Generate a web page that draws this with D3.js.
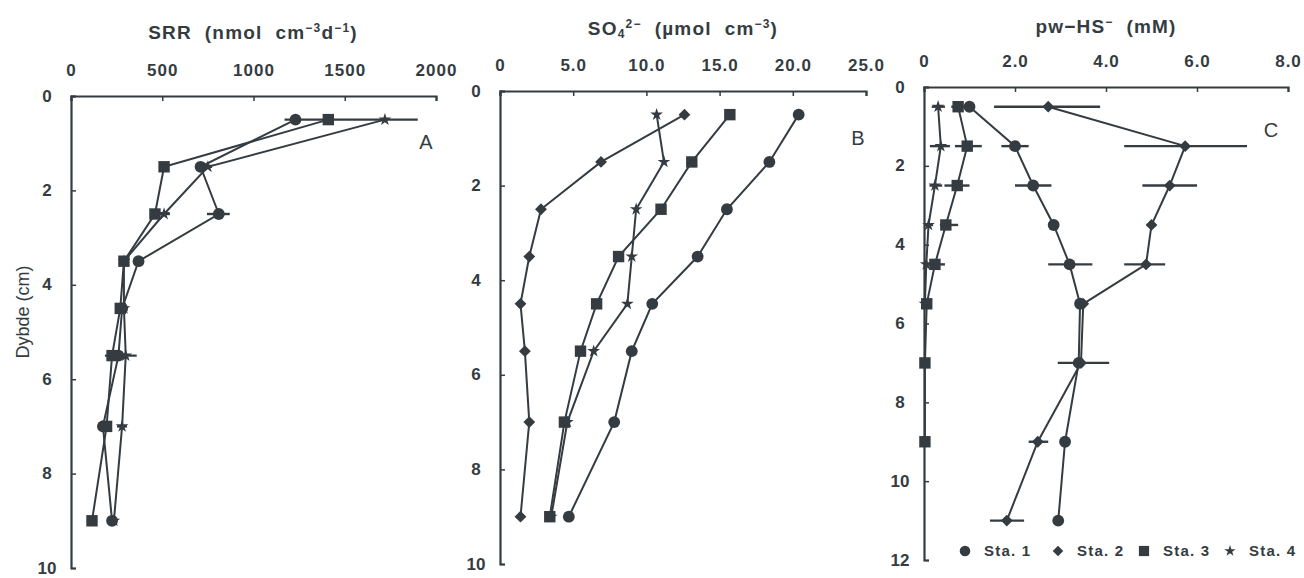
<!DOCTYPE html>
<html>
<head>
<meta charset="utf-8">
<script src="https://cdn.jsdelivr.net/npm/d3@7"></script>
<style>
  html, body { margin: 0; padding: 0; background: #ffffff; }
  svg { display: block; }
  text { font-family: "Liberation Sans", Arial, Helvetica, sans-serif; fill: #343c42; }
  .title { white-space: pre; }
</style>
</head>
<body>
<svg id="chart" width="1304" height="578"></svg>
<script>
// ---------- DATA ----------
const stations = ["Sta. 1", "Sta. 2", "Sta. 3", "Sta. 4"];

// Panel A: sulfate reduction rate (nmol cm-3 d-1)
const depthsA = [0.5, 1.5, 2.5, 3.5, 4.5, 5.5, 7, 9];
const srrSta1 = [1230, 710, 810, 370, 280, 260, 175, 225];
const srrSta3 = [1410, 510, 460, 290, 270, 225, 195, 115];
const srrSta4 = [1720, 750, 510, 290, 290, 300, 280, 235];
const srrErrDepth = [0.5, 1.5, 2.5, 2.5, 5.5, 7];
const srrErrLo    = [1170, 690, 745, 433, 186, 252];
const srrErrHi    = [1900, 773, 870, 542, 360, 307];
const ticksA = [0, 500, 1000, 1500, 2000];

// Panel B: sulfate (µmol cm-3)
const depthsB = [0.5, 1.5, 2.5, 3.5, 4.5, 5.5, 7, 9];
const so4Sta1 = [20.4, 18.4, 15.5, 13.5, 10.4, 9.0, 7.8, 4.7];
const so4Sta2 = [12.6, 6.9, 2.8, 2.0, 1.4, 1.7, 2.0, 1.4];
const so4Sta3 = [15.7, 13.1, 11.0, 8.1, 6.6, 5.5, 4.4, 3.4];
const so4Sta4 = [10.7, 11.2, 9.3, 9.0, 8.7, 6.4, 4.6, 3.5];
const ticksB = [0, 5, 10, 15, 20, 25];

// Panel C: porewater HS- (mM)
const depthsC = [0.5, 1.5, 2.5, 3.5, 4.5, 5.5, 7, 9, 11];
const hsSta1 = [1.0, 2.0, 2.4, 2.85, 3.2, 3.43, 3.4, 3.1, 2.95];
const hsSta2 = [2.73, 5.74, 5.4, 5.0, 4.88, 3.5, 3.45, 2.5, 1.82];
const hsSta3 = [0.75, 0.95, 0.73, 0.48, 0.24, 0.06, 0.02, 0.02];
const hsSta4 = [0.31, 0.37, 0.24, 0.1, 0.05, 0.02];
const hsErrDepth = [1.5, 2.5, 4.5, 7, 0.5, 1.5, 2.5, 4.5, 9, 11, 0.5, 1.5, 2.5, 3.5, 4.5, 0.5, 1.5, 2.5, 3.5];
const hsErrLo    = [1.7, 2.0, 2.73, 2.94, 1.54, 4.4, 4.8, 4.4, 2.3, 1.45, 0.6, 0.68, 0.45, 0.35, 0.04, 0.17, 0.13, 0.12, 0.0];
const hsErrHi    = [2.3, 2.8, 3.7, 4.07, 3.87, 7.1, 6.0, 5.3, 2.73, 2.2, 1.08, 1.27, 1.0, 0.75, 0.46, 0.46, 0.57, 0.4, 0.2];
const ticksC = [0, 2, 4, 6, 8];

const depthTicksAB = [0, 2, 4, 6, 8, 10];
const depthTicksC = [0, 2, 4, 6, 8, 10, 12];

// ---------- DRAWING ----------
const ink = "#343c42";
const svg = d3.select("#chart");

const symbolRhomb = {
  draw(ctx, size) {
    const r = Math.sqrt(size / 2);
    ctx.moveTo(0, -r); ctx.lineTo(r, 0); ctx.lineTo(0, r); ctx.lineTo(-r, 0); ctx.closePath();
  }
};
const symbolTypes = [d3.symbolCircle, symbolRhomb, d3.symbolSquare, d3.symbolStar];
const symbolSizes = [110, 70, 130, 50];

function panel(cfg) {
  const x = d3.scaleLinear().domain(cfg.xDomain).range([cfg.x0, cfg.x1]);
  const y = d3.scaleLinear().domain(cfg.yDomain).range([cfg.y0, cfg.y1]);
  const g = svg.append("g");

  // top axis
  const ax = g.append("g").attr("transform", `translate(0,${cfg.y0})`)
    .call(d3.axisTop(x).tickValues(cfg.xTicks).tickFormat(cfg.xFormat)
      .tickSizeInner(-5).tickSizeOuter(-5).tickPadding(20));
  ax.select(".domain").attr("stroke", ink).attr("stroke-width", 2.2);
  ax.selectAll(".tick line").attr("stroke", ink).attr("stroke-width", 1.5);
  ax.selectAll(".tick text").attr("fill", ink).attr("font-size", 17).attr("font-weight", "bold")
    .attr("letter-spacing", 1).attr("font-family", "'Liberation Sans', Arial, sans-serif");

  // left axis
  const ay = g.append("g").attr("transform", `translate(${cfg.x0},0)`)
    .call(d3.axisLeft(y).tickValues(cfg.yTicks).tickFormat(d3.format("d"))
      .tickSizeInner(-5).tickSizeOuter(-5).tickPadding(24));
  ay.select(".domain").attr("stroke", ink).attr("stroke-width", 2.2);
  ay.selectAll(".tick line").attr("stroke", ink).attr("stroke-width", 1.5);
  ay.selectAll(".tick text").attr("fill", ink).attr("font-size", 17).attr("font-weight", "bold")
    .attr("text-anchor", "middle").attr("dy", "0.3em")
    .attr("font-family", "'Liberation Sans', Arial, sans-serif");

  // lines
  const line = d3.line().x(d => x(d.v)).y(d => y(d.d));
  cfg.series.forEach(s => {
    const pts = s.values.map((v, i) => ({ v: v, d: s.depths[i] }));
    g.append("path").datum(pts).attr("d", line)
      .attr("fill", "none").attr("stroke", ink).attr("stroke-width", 2);
  });

  // error bars
  if (cfg.err) {
    cfg.err.depth.forEach((dd, i) => {
      g.append("line")
        .attr("x1", x(cfg.err.lo[i])).attr("x2", x(cfg.err.hi[i]))
        .attr("y1", y(dd)).attr("y2", y(dd))
        .attr("stroke", ink).attr("stroke-width", 2.4);
    });
  }

  // markers
  cfg.series.forEach(s => {
    const pts = s.values.map((v, i) => ({ v: v, d: s.depths[i] }));
    g.selectAll(null).data(pts).enter().append("path")
      .attr("d", d3.symbol().type(symbolTypes[s.sta]).size(symbolSizes[s.sta]))
      .attr("transform", d => `translate(${x(d.v)},${y(d.d)})`)
      .attr("fill", ink);
  });

  // panel letter
  g.append("text").attr("x", cfg.letterX).attr("y", cfg.letterY)
    .attr("font-size", 20).attr("text-anchor", "middle").text(cfg.letter);

  // title
  const t = g.append("text").attr("class", "title").attr("x", cfg.titleX).attr("y", cfg.titleY)
    .attr("text-anchor", "middle").attr("font-size", 19).attr("font-weight", "bold")
    .attr("letter-spacing", 1.2);
  cfg.title.forEach(p => {
    const ts = t.append("tspan").text(p.t);
    if (p.sup) ts.attr("font-size", 12).attr("baseline-shift", "55%");
    if (p.sub) ts.attr("font-size", 12).attr("baseline-shift", "-25%");
  });
  return { x, y };
}

panel({
  xDomain: [0, 2000], x0: 71, x1: 436, yDomain: [0, 10], y0: 96, y1: 568,
  xTicks: ticksA, xFormat: d3.format("d"), yTicks: depthTicksAB,
  series: [
    { sta: 0, depths: depthsA, values: srrSta1 },
    { sta: 2, depths: depthsA, values: srrSta3 },
    { sta: 3, depths: depthsA, values: srrSta4 }
  ],
  err: { depth: srrErrDepth, lo: srrErrLo, hi: srrErrHi },
  letter: "A", letterX: 426, letterY: 149,
  titleX: 253, titleY: 39,
  title: [{ t: "SRR  (nmol  cm" }, { t: "−3", sup: true }, { t: "d" }, { t: "−1", sup: true }, { t: ")" }]
});

panel({
  xDomain: [0, 25], x0: 500, x1: 866, yDomain: [0, 10], y0: 91, y1: 564,
  xTicks: ticksB, xFormat: d => d === 0 ? "0" : d3.format(".1f")(d), yTicks: depthTicksAB,
  series: [
    { sta: 0, depths: depthsB, values: so4Sta1 },
    { sta: 1, depths: depthsB, values: so4Sta2 },
    { sta: 2, depths: depthsB, values: so4Sta3 },
    { sta: 3, depths: depthsB, values: so4Sta4 }
  ],
  letter: "B", letterX: 858, letterY: 145,
  titleX: 683, titleY: 35,
  title: [{ t: "SO" }, { t: "4", sub: true }, { t: "2−", sup: true }, { t: "  (µmol  cm" }, { t: "−3", sup: true }, { t: ")" }]
});

panel({
  xDomain: [0, 8], x0: 924, x1: 1288, yDomain: [0, 12], y0: 87, y1: 560,
  xTicks: ticksC, xFormat: d => d === 0 ? "0" : d3.format(".1f")(d), yTicks: depthTicksC,
  series: [
    { sta: 0, depths: depthsC, values: hsSta1 },
    { sta: 1, depths: depthsC, values: hsSta2 },
    { sta: 2, depths: depthsC.slice(0, hsSta3.length), values: hsSta3 },
    { sta: 3, depths: depthsC.slice(0, hsSta4.length), values: hsSta4 }
  ],
  err: { depth: hsErrDepth, lo: hsErrLo, hi: hsErrHi },
  letter: "C", letterX: 1271, letterY: 137,
  titleX: 1106, titleY: 33,
  title: [{ t: "pw−HS" }, { t: "−", sup: true }, { t: "  (mM)" }]
});

// y-axis label
svg.append("text").attr("transform", "translate(29,312) rotate(-90)")
  .attr("text-anchor", "middle").attr("font-size", 18).text("Dybde (cm)");

// legend
const legX = [965, 1058, 1144, 1230];
const legG = svg.append("g");
stations.forEach((s, i) => {
  legG.append("path")
    .attr("d", d3.symbol().type(symbolTypes[i]).size(symbolSizes[i] * 0.8))
    .attr("transform", `translate(${legX[i]},551)`).attr("fill", ink);
  legG.append("text").attr("x", legX[i] + 19).attr("y", 556)
    .attr("font-size", 15).attr("font-weight", "bold").attr("letter-spacing", 1.2).text(s);
});
</script>
</body>
</html>
